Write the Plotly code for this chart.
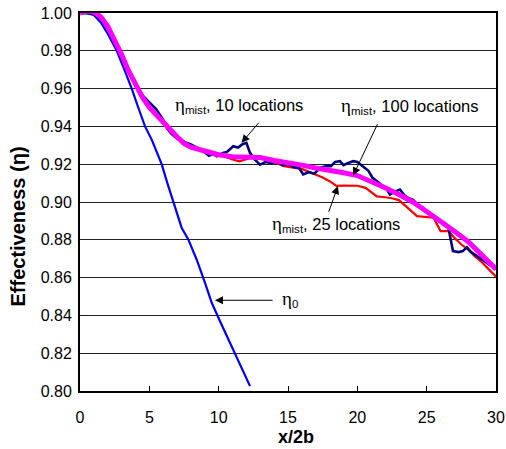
import plotly.graph_objects as go

# eta_0 (blue)
x_eta0 = [0, 0.5, 1.0, 1.5, 2.0, 2.65, 3.2, 3.73, 4.2, 4.69, 5.17, 5.89, 6.3, 6.73, 7.33, 7.81,
          8.41, 9.01, 9.5, 10.09, 10.58, 11.18, 11.7, 12.26]
y_eta0 = [1.0, 0.9998, 0.999, 0.995, 0.989, 0.98, 0.970, 0.96, 0.950, 0.94, 0.933, 0.92, 0.910,
          0.9004, 0.8864, 0.8802, 0.8696, 0.8573, 0.8467, 0.837, 0.8291, 0.8194, 0.811, 0.8026]

# eta_mist, 10 locations (navy)
x_10 = [0, 0.5, 1, 1.5, 2, 2.5, 3, 3.5, 4, 4.56, 5, 5.5, 6, 6.25, 6.6, 7, 7.2, 7.6, 8, 8.5, 8.9,
        9.3, 9.6, 9.86, 10.3, 10.6, 11.05, 11.4, 11.7, 12.0, 12.26, 12.6, 12.98, 13.4, 13.8, 14.2,
        14.6, 15, 15.4, 15.8, 16.1, 16.5, 16.9, 17.3, 17.75, 18.1, 18.4, 18.75, 19.0, 19.3, 19.7,
        20.0, 20.4, 20.8, 21.1, 21.4, 21.8, 22.1, 22.35, 22.7, 23.07, 23.4, 23.7, 24.0, 24.3, 24.7,
        25.2, 25.5, 25.9, 26.3, 26.55, 26.9, 27.3, 27.6, 27.9, 28.2, 28.5, 29.0, 29.5, 30]
y_10 = [1.0, 1.0, 0.9995, 0.997, 0.992, 0.985, 0.977, 0.969, 0.9615, 0.956, 0.9525, 0.949, 0.9435,
        0.9392, 0.936, 0.9335, 0.933, 0.9315, 0.9305, 0.9285, 0.9269, 0.9245, 0.9255, 0.9242,
        0.926, 0.9265, 0.9295, 0.9288, 0.9305, 0.9313, 0.926, 0.9225, 0.9198, 0.9212, 0.9205,
        0.9215, 0.9195, 0.920, 0.9185, 0.918, 0.9146, 0.9158, 0.915, 0.918, 0.919, 0.919, 0.9212,
        0.9216, 0.9195, 0.9205, 0.9216, 0.9212, 0.919, 0.9165, 0.9128, 0.911, 0.909, 0.907, 0.904,
        0.9055, 0.9066, 0.9035, 0.902, 0.9013, 0.899, 0.896, 0.894, 0.8915, 0.890, 0.889, 0.887,
        0.874, 0.8735, 0.874, 0.876, 0.8735, 0.872, 0.8695, 0.867, 0.8645]

# eta_mist, 25 locations (red)
x_25 = [0, 0.5, 1, 1.5, 2, 2.5, 3, 3.5, 4, 4.5, 5, 5.5, 6, 6.5, 7, 7.5, 8, 9, 10, 10.5, 11, 11.5,
        12, 12.5, 13, 13.5, 14, 14.7, 15.5, 16, 16.5, 17, 17.5, 18, 18.5, 19, 19.5, 20, 20.6, 21,
        21.4, 22, 22.5, 23, 23.5, 24, 24.3, 25, 25.5, 26, 26.6, 27, 27.5, 28, 28.5, 29, 29.5, 30]
y_25 = [1.0, 1.001, 1.0005, 0.998, 0.993, 0.986, 0.978, 0.9695, 0.962, 0.9555, 0.950, 0.946,
        0.9415, 0.9375, 0.934, 0.931, 0.929, 0.9265, 0.9245, 0.924, 0.9225, 0.9215, 0.9228,
        0.9238, 0.923, 0.9225, 0.921, 0.919, 0.918, 0.9175, 0.916, 0.9146, 0.913, 0.911, 0.9085,
        0.9087, 0.9085, 0.9086, 0.9075, 0.905, 0.903, 0.9025, 0.902, 0.901, 0.898, 0.8945, 0.8925,
        0.8922, 0.8917, 0.8846, 0.8846, 0.881, 0.8775, 0.8748, 0.871, 0.868, 0.864, 0.8605]

# eta_mist, 100 locations (magenta)
x_100 = [0, 0.5, 1.0, 1.5, 2.0, 2.5, 3.0, 3.5, 4.0, 4.5, 5.0, 5.5, 6.0, 6.5, 7.0, 7.5, 8.0, 9.0,
         10.0, 11.0, 12.0, 13.0, 14.0, 15.0, 16.0, 17.0, 18.0, 19.0, 20.0, 21.0, 22.0, 23.0, 24.0,
         25.0, 26.0, 27.0, 28.0, 29.0, 30.0]
y_100 = [1.0, 1.001, 1.0005, 0.998, 0.993, 0.986, 0.978, 0.9695, 0.962, 0.9555, 0.950, 0.946,
         0.942, 0.938, 0.9345, 0.931, 0.929, 0.927, 0.925, 0.924, 0.924, 0.9235, 0.922, 0.921,
         0.9195, 0.918, 0.917, 0.9155, 0.914, 0.911, 0.9075, 0.904, 0.900, 0.895, 0.890, 0.8845,
         0.879, 0.8715, 0.8645]

x_ticks = [0, 5, 10, 15, 20, 25, 30]

FONT = "Liberation Sans, Arial, sans-serif"
ETA = "<span style=\"font-family:'Liberation Serif';font-size:19px\">η</span>"

fig = go.Figure()
fig.add_trace(go.Scatter(x=x_eta0, y=y_eta0, mode="lines", line=dict(color="#0000FF", width=2.2)))
fig.add_trace(go.Scatter(x=x_25, y=y_25, mode="lines", line=dict(color="#FF0000", width=2.2)))
fig.add_trace(go.Scatter(x=x_10, y=y_10, mode="lines", line=dict(color="#000080", width=2.6)))
fig.add_trace(go.Scatter(x=x_100, y=y_100, mode="lines", line=dict(color="#FF00FF", width=5)))

arrows = [
    (11.65, 0.9313, 12.98, 0.9427),
    (19.7, 0.914, 21.5, 0.9419),
    (18.6, 0.9084, 17.9, 0.894),
    (9.73, 0.848, 14.0, 0.848),
]
for hx, hy, tx, ty in arrows:
    fig.add_annotation(x=hx, y=hy, ax=tx, ay=ty, xref="x", yref="y", axref="x", ayref="y",
                       text="", showarrow=True, arrowhead=2, arrowsize=1.6, arrowwidth=1,
                       arrowcolor="black")

labels = [
    (ETA + "<sub>mist</sub>, 10 locations", 11.5, 0.9515, "center"),
    (ETA + "<sub>mist</sub>, 100 locations", 23.83, 0.9506, "center"),
    (ETA + "<sub>mist</sub>, 25 locations", 18.45, 0.8881, "center"),
    (ETA + "<sub>0</sub>", 14.4, 0.8485, "left"),
]
for txt, x, y, anc in labels:
    fig.add_annotation(x=x, y=y, xref="x", yref="y", text=txt, showarrow=False,
                       xanchor=anc, yanchor="middle",
                       font=dict(family=FONT, size=16.5, color="black"))

# axis titles
fig.add_annotation(x=-0.1502, y=0.4339, xref="paper", yref="paper", text="<b>Effectiveness (η)</b>",
                   textangle=-90, showarrow=False, xanchor="center", yanchor="middle",
                   font=dict(family=FONT, size=20, color="black"))
fig.add_annotation(x=0.519, y=-0.1217, xref="paper", yref="paper", text="<b>x/2b</b>",
                   showarrow=False, xanchor="center", yanchor="middle",
                   font=dict(family=FONT, size=18, color="black"))

fig.update_layout(
    width=506, height=449,
    margin=dict(l=80, r=10, t=13, b=58, autoexpand=False),
    paper_bgcolor="white", plot_bgcolor="white",
    showlegend=False, hovermode=False,
    font=dict(family=FONT, size=16, color="black"),
)
fig.update_xaxes(range=[0, 30], tickvals=x_ticks, ticks="inside", ticklen=5, tickwidth=1,
                 tickcolor="black", showgrid=False, zeroline=False, showline=True, linewidth=2,
                 linecolor="black", mirror=True, ticklabelstandoff=11, automargin=False)
fig.update_yaxes(range=[0.80, 1.00], dtick=0.02, tickformat=".2f", ticks="", showgrid=True,
                 gridcolor="#222222", gridwidth=1, zeroline=False, showline=True, linewidth=2,
                 linecolor="black", mirror=True, ticklabelstandoff=3, automargin=False)

fig.write_html("out.html", config={"displayModeBar": False},
               post_script="document.body.style.margin='0';document.body.style.padding='0';")
